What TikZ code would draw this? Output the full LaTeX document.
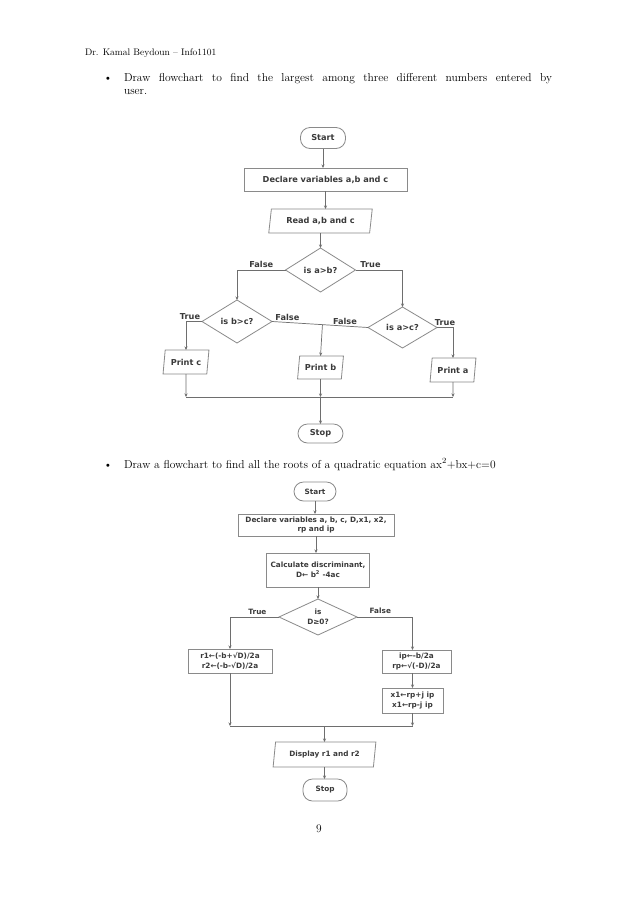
\documentclass[tikz,border=0pt]{standalone}
\usepackage{fontspec}
\newfontfamily\fcf{DejaVu Sans}
\usetikzlibrary{shapes.geometric,arrows.meta,calc}
\definecolor{ln}{HTML}{6E6E6E}
\definecolor{bd}{HTML}{8A8A8A}
\definecolor{tx}{HTML}{3A3A3A}
\tikzset{
  every node/.style={inner sep=0pt, outer sep=0pt},
  fc/.style={font=\fcf\bfseries\fontsize{8.2}{10}\selectfont, text=tx, align=center},
  fcs/.style={font=\fcf\bfseries\fontsize{7.3}{9.8}\selectfont, text=tx, align=center},
  term/.style={draw=bd, line width=0.8pt, rectangle, rounded corners=9.5pt},
  box/.style={draw=bd, line width=0.8pt, rectangle},
  para/.style={draw=bd, line width=0.8pt, trapezium, trapezium left angle=76,
    trapezium right angle=104, trapezium stretches=true},
  dia/.style={draw=bd, line width=0.8pt, diamond, aspect=2},
  conn/.style={draw=ln, line width=0.7pt},
  arr/.style={conn, -{Stealth[length=3.5pt,width=3pt]}},
  lbl/.style={fc},
  lbls/.style={fcs},
  body/.style={font=\fontsize{11.5}{13}\selectfont, anchor=base west}
}
\begin{document}
\begin{tikzpicture}[x=1pt,y=-1pt]
\useasboundingbox (0,0) rectangle (638,903);
\fill[white] (0,0) rectangle (638,903);

% page text
\node[font=\fontsize{9.5}{11}\selectfont, anchor=base west] (hdr) at (85,55.5) {Dr. Kamal Beydoun -- Info1101};
\node[body, anchor=base] (bul1) at (108,81) {\textbullet};
\node[body] (t1a) at (124,81) {\makebox[428pt][s]{Draw flowchart to find the largest among three different numbers entered by}};
\node[body] (t1b) at (124,94) {user.};
\node[body, anchor=base] (bul2) at (108,468) {\textbullet};
\node[body] (t2) at (124,468) {Draw a flowchart to find all the roots of a quadratic equation ax\textsuperscript{2}+bx+c=0};
\node[body, anchor=base] (pg) at (319,832) {9};

% ---------- chart 1 ----------
\node[term,fc,minimum width=45pt,minimum height=21pt] (s1) at (323,138) {Start};
\node[box,fc,minimum width=163pt,minimum height=23pt] (d1) at (325.5,179.5) {Declare variables a,b and c};
\node[para,fc,minimum width=104pt,minimum height=24pt] (r1) at (320.5,221) {Read a,b and c};
\node[dia,fc,minimum width=70pt,minimum height=44pt] (q1) at (320.5,270) {is a>b?};
\node[dia,fc,minimum width=70pt,minimum height=43pt] (q2) at (237,321.5) {is b>c?};
\node[dia,fc,minimum width=69pt,minimum height=41pt] (q3) at (402.5,327.5) {is a>c?};
\node[para,fc,minimum width=46pt,minimum height=24pt] (pc) at (186,362) {Print c};
\node[para,fc,minimum width=46pt,minimum height=23pt] (pb) at (320.5,367.5) {Print b};
\node[para,fc,minimum width=46pt,minimum height=24pt] (pa) at (453,370) {Print a};
\node[term,fc,minimum width=45pt,minimum height=19pt] (e1) at (320.5,433.5) {Stop};
\coordinate (mL) at (186,397);
\coordinate (mC) at (320.5,397);
\coordinate (mR) at (453,397);

\draw[arr] (s1.south) -- (s1.south |- d1.north);
\draw[arr] (d1.south) -- (d1.south |- r1.north);
\draw[arr] (r1.south) -- (q1.north);
\draw[arr] (q1.west) -| (q2.north) node[lbl, pos=0.25, above=2pt] {False};
\draw[arr] (q1.east) -| (q3.north) node[lbl, pos=0.16, above=2pt] {True};
\draw[arr] (q2.west) -| (pc.north) node[lbl, pos=0.375, above=2pt] {True};
\draw[conn] (q2.east) -- (q3.west)
  node[lbl, pos=0.16, above=1.5pt] {False}
  node[lbl, pos=0.76, above=1.5pt] {False};
\coordinate (bj) at ($(q2.east)!(pb.north)!(q3.west)$);
\draw[arr] (bj) -- (pb.north);
\draw[arr] (q3.east) -| (pa.north) node[lbl, pos=0.25, above=2pt] {True};
\draw[conn] (mL) -- (mR);
\draw[arr] (pc.south) -- (mL);
\draw[arr] (pb.south) -- (mC);
\draw[arr] (pa.south) -- (mR);
\draw[arr] (mC) -- (e1.north);

% ---------- chart 2 ----------
\node[term,fcs,minimum width=42pt,minimum height=19pt] (s2) at (315,491.5) {Start};
\node[box,fcs,minimum width=156pt,minimum height=22pt] (d2) at (316,525) {Declare variables a, b, c, D,x1, x2,\\rp and ip};
\node[box,fcs,minimum width=103pt,minimum height=34pt] (c2) at (318,570) {Calculate discriminant,\\D← b\textsuperscript{2} -4ac};
\node[dia,fcs,minimum width=78pt,minimum height=36pt] (q4) at (318,617) {is\\D≥0?};
\node[box,fcs,minimum width=84pt,minimum height=24pt] (b1) at (230,661) {r1←(-b+√D)/2a\\r2←(-b-√D)/2a};
\node[box,fcs,minimum width=69pt,minimum height=23pt] (b2) at (416.5,661.5) {ip←-b/2a\\rp←√(-D)/2a};
\node[box,fcs,minimum width=61pt,minimum height=25pt] (b3) at (412.5,700.5) {x1←rp+j ip\\x1←rp-j ip};
\node[para,fcs,minimum width=103pt,minimum height=25pt] (dp) at (324.5,754.5) {Display r1 and r2};
\node[term,fcs,minimum width=44pt,minimum height=22pt] (e2) at (325,790) {Stop};
\coordinate (nL) at (230,726);
\coordinate (nC) at (324.5,726);
\coordinate (nR) at (412.5,726);

\draw[arr] (s2.south) -- (s2.south |- d2.north);
\draw[arr] (d2.south) -- (d2.south |- c2.north);
\draw[arr] (c2.south) -- (q4.north);
\draw[arr] (q4.west) -| (b1.north) node[lbls, pos=0.22, above=2.5pt] {True};
\draw[arr] (q4.east) -| (b3.north |- b2.north) node[lbls, pos=0.21, above=3pt] {False};
\draw[arr] (b3.north |- b2.south) -- (b3.north);
\draw[conn] (nL) -- (nR);
\draw[arr] (b1.south) -- (nL);
\draw[arr] (b3.south) -- (nR);
\draw[arr] (nC) -- (dp.north);
\draw[arr] (dp.south) -- (dp.south |- e2.north);
\end{tikzpicture}
\end{document}
